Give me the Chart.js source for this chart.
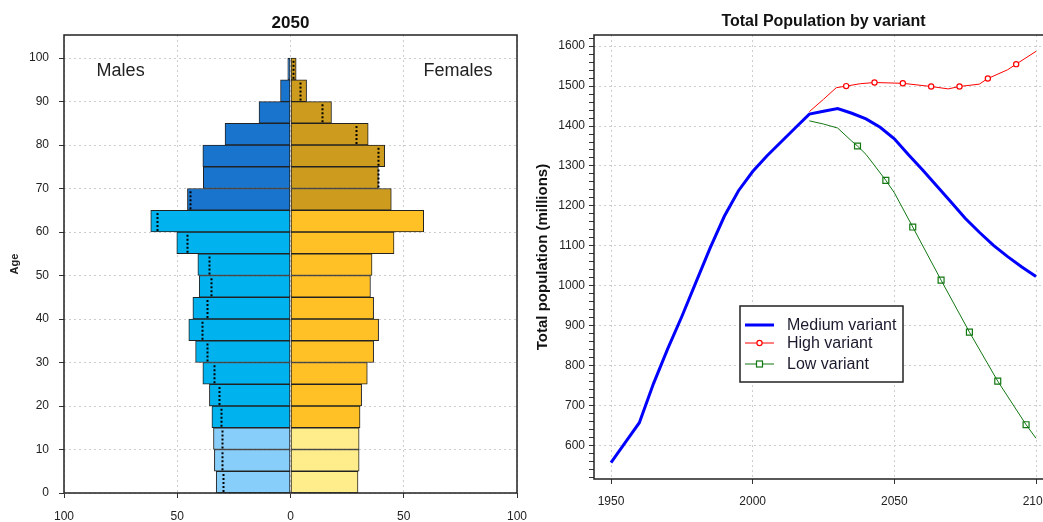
<!DOCTYPE html>
<html>
<head>
<meta charset="utf-8">
<script src="https://cdn.jsdelivr.net/npm/chart.js@4.4.0/dist/chart.umd.min.js"></script>
<style>
    html, body { margin: 0; padding: 0; background: #fff; overflow: hidden; }
    #wrap { position: relative; width: 1043px; height: 522px; overflow: hidden; }
    #pyramidChart { position: absolute; left: 0; top: 0; }
    #variantChart { position: absolute; left: 530px; top: 0; }
</style>
</head>
<body>
<div id="wrap">
    <canvas id="pyramidChart" width="530" height="522"></canvas>
    <canvas id="variantChart" width="540" height="522"></canvas>
</div>
<script>
// ---- Pyramid 2050 (5-year age groups) ----
const ageStarts = [0, 5, 10, 15, 20, 25, 30, 35, 40, 45, 50, 55, 60, 65, 70, 75, 80, 85, 90, 95];
const males   = [32.8, 33.6, 34.0, 34.7, 35.8, 38.7, 41.9, 44.9, 43.1, 40.3, 40.9, 50.2, 61.7, 45.5, 38.5, 38.7, 28.9, 13.9, 4.4, 1.2];
const females = [29.8, 30.3, 30.3, 30.7, 31.4, 33.9, 36.7, 38.9, 36.7, 35.3, 36.0, 45.7, 58.8, 44.5, 38.8, 41.6, 34.3, 18.1, 7.1, 2.5];
const ageTicks = [0, 10, 20, 30, 40, 50, 60, 70, 80, 90, 100];
const pyramidTicks = [-100, -50, 0, 50, 100];

// ---- Total population by variant (millions) ----
const mediumYears = [1950, 1955, 1960, 1965, 1970, 1975, 1980, 1985, 1990, 1995, 2000, 2005, 2010, 2015, 2020,
                     2025, 2030, 2035, 2040, 2045, 2050, 2055, 2060, 2065, 2070, 2075, 2080, 2085, 2090, 2095, 2100];
const mediumPop   = [557, 607, 657, 755, 842, 923, 1009, 1095, 1174, 1238, 1286, 1325, 1360, 1395, 1430,
                     1437, 1444, 1432, 1418, 1397, 1368, 1328, 1290, 1250, 1210, 1169, 1134, 1101, 1073, 1047, 1023];
const highYears = [2020, 2025, 2029.5, 2033, 2038, 2043, 2053, 2058, 2063, 2069, 2073, 2080, 2083, 2090, 2093, 2100];
const highPop   = [1436, 1467, 1496, 1500, 1506, 1509, 1507, 1503, 1499, 1493, 1499, 1505, 1519, 1541, 1555, 1587];
const highMarkerYears = [2033, 2043, 2053, 2063, 2073, 2083, 2093];
const lowYears = [2020, 2025, 2030, 2035, 2037, 2040, 2047, 2050, 2056.5, 2066.5, 2076.5, 2086.5, 2096.5, 2100];
const lowPop   = [1413, 1405, 1395, 1362, 1350, 1329, 1264, 1233, 1147, 1014, 884, 761, 652, 618];
const lowMarkerYears = [2037, 2047, 2056.5, 2066.5, 2076.5, 2086.5, 2096.5];
const yearTicks = [1950, 2000, 2050, 2100];
const popTicks = [600, 700, 800, 900, 1000, 1100, 1200, 1300, 1400, 1500, 1600];

Chart.defaults.font.family = '"Liberation Sans", Arial, sans-serif';
Chart.defaults.font.size = 12;
Chart.defaults.color = '#222';

const GRID = '#cdcdcd';

// colours by broad age group
function maleColor(a)   { return a < 15 ? '#87CEFA' : (a < 65 ? '#00B2EE' : '#1874CD'); }
function femaleColor(a) { return a < 15 ? '#FFEC8B' : (a < 65 ? '#FFC125' : '#CD9B1D'); }

// box round the plot area
const frameBox = {
    id: 'frameBox',
    afterDatasetsDraw(chart) {
        const { ctx, chartArea: a } = chart;
        ctx.save();
        ctx.strokeStyle = '#222';
        ctx.lineWidth = 1.5;
        ctx.strokeRect(a.left, a.top, a.right - a.left, a.bottom - a.top);
        ctx.restore();
    }
};

// dotted line = other sex's value, drawn inside the bigger bar
const mirrorLines = {
    id: 'mirrorLines',
    afterDatasetsDraw(chart) {
        const { ctx, scales: { x, y } } = chart;
        ctx.save();
        ctx.strokeStyle = '#000';
        ctx.lineWidth = 2;
        ctx.setLineDash([2, 2]);
        ageStarts.forEach((a, i) => {
            const v = females[i] < males[i] ? -females[i] : males[i];
            const px = Math.round(x.getPixelForValue(v)) + 0.5;
            ctx.beginPath();
            ctx.moveTo(px, y.getPixelForValue(a) - 1);
            ctx.lineTo(px, y.getPixelForValue(a + 5) + 1);
            ctx.stroke();
        });
        ctx.restore();
    }
};

const pyramidText = {
    id: 'pyramidText',
    afterDraw(chart) {
        const { ctx, chartArea: a, scales: { x, y } } = chart;
        ctx.save();
        ctx.fillStyle = '#111';
        ctx.textAlign = 'center';
        ctx.textBaseline = 'middle';
        ctx.font = 'bold 17px "Liberation Sans", Arial';
        ctx.fillText('2050', (a.left + a.right) / 2, 23);
        ctx.fillStyle = '#222';
        ctx.font = '18px "Liberation Sans", Arial';
        ctx.fillText('Males', x.getPixelForValue(-75), y.getPixelForValue(97));
        ctx.fillText('Females', x.getPixelForValue(74), y.getPixelForValue(97));
        ctx.translate(15, 264);
        ctx.rotate(-Math.PI / 2);
        ctx.font = 'bold 11px "Liberation Sans", Arial';
        ctx.fillText('Age', 0, 0);
        ctx.restore();
    }
};

const variantText = {
    id: 'variantText',
    afterDraw(chart) {
        const { ctx, chartArea: a } = chart;
        ctx.save();
        ctx.fillStyle = '#111';
        ctx.textAlign = 'center';
        ctx.textBaseline = 'middle';
        ctx.font = 'bold 16px "Liberation Sans", Arial';
        ctx.fillText('Total Population by variant', (a.left + a.right) / 2, 22);
        ctx.translate(13, (a.top + a.bottom) / 2);
        ctx.rotate(-Math.PI / 2);
        ctx.font = 'bold 15px "Liberation Sans", Arial';
        ctx.fillText('Total population (millions)', 0, 0);
        ctx.restore();

        // legend box
        ctx.save();
        ctx.fillStyle = '#fff';
        ctx.fillRect(210, 306, 163, 76);
        ctx.strokeStyle = '#222';
        ctx.lineWidth = 1.5;
        ctx.strokeRect(210, 306, 163, 76);
        const rows = [325, 343, 364];
        chart.data.datasets.forEach((ds, i) => {
            const ry = rows[i];
            ctx.strokeStyle = ds.borderColor;
            ctx.lineWidth = ds.borderWidth;
            ctx.beginPath();
            ctx.moveTo(215, ry);
            ctx.lineTo(244, ry);
            ctx.stroke();
            ctx.lineWidth = 1.2;
            if (ds.pointStyle === 'circle') {
                ctx.fillStyle = '#fff';
                ctx.beginPath();
                ctx.arc(229.5, ry, 2.6, 0, Math.PI * 2);
                ctx.fill();
                ctx.stroke();
            } else if (ds.pointStyle === 'rect') {
                ctx.fillStyle = '#fff';
                ctx.fillRect(226.5, ry - 3, 6, 6);
                ctx.strokeRect(226.5, ry - 3, 6, 6);
            }
            ctx.fillStyle = '#1a1a2e';
            ctx.font = '16px "Liberation Sans", Arial';
            ctx.textAlign = 'left';
            ctx.textBaseline = 'middle';
            ctx.fillText(ds.label, 257, ry + 1);
        });
        ctx.restore();
    }
};

// fixed axis box sizes, no extra room for edge labels
function fixX(h) {
    return s => { s.height = h; s.paddingLeft = 0; s.paddingRight = 0; };
}
function fixY(w) {
    return s => { s.width = w; s.paddingTop = 0; s.paddingBottom = 0; };
}

function initPyramid() {
    const ctx = document.getElementById('pyramidChart').getContext('2d');
    new Chart(ctx, {
        type: 'bar',
        data: {
            datasets: [
                {
                    label: 'Males',
                    data: ageStarts.map((a, i) => ({ x: -males[i], y: a + 2.5 })),
                    backgroundColor: ageStarts.map(maleColor),
                    borderColor: '#222',
                    borderWidth: 1,
                    borderSkipped: false,
                    grouped: false,
                    barPercentage: 1,
                    categoryPercentage: 1
                },
                {
                    label: 'Females',
                    data: ageStarts.map((a, i) => ({ x: females[i], y: a + 2.5 })),
                    backgroundColor: ageStarts.map(femaleColor),
                    borderColor: '#222',
                    borderWidth: 1,
                    borderSkipped: false,
                    grouped: false,
                    barPercentage: 1,
                    categoryPercentage: 1
                }
            ]
        },
        options: {
            indexAxis: 'y',
            responsive: false,
            animation: false,
            layout: { padding: { top: 35, right: 13, left: 0, bottom: 0 } },
            plugins: { legend: { display: false }, tooltip: { enabled: false } },
            scales: {
                x: {
                    type: 'linear',
                    min: -100,
                    max: 100,
                    afterBuildTicks: s => { s.ticks = pyramidTicks.map(v => ({ value: v })); },
                    afterFit: fixX(29),
                    grid: { color: GRID, tickColor: '#333', tickLength: 5 },
                    border: { display: false, dash: [2, 3] },
                    ticks: { padding: 11, maxRotation: 0, callback: v => String(Math.abs(v)) }
                },
                y: {
                    type: 'linear',
                    min: 0,
                    max: 105.3,
                    offset: false,
                    afterBuildTicks: s => { s.ticks = ageTicks.map(v => ({ value: v })); },
                    afterFit: fixY(64),
                    grid: { offset: false, color: GRID, tickColor: '#333', tickLength: 5 },
                    border: { display: false, dash: [2, 3] },
                    ticks: { padding: 10, callback: v => String(v) }
                }
            }
        },
        plugins: [mirrorLines, frameBox, pyramidText]
    });
}

function initVariants() {
    const ctx = document.getElementById('variantChart').getContext('2d');
    const minorTicks = [];
    for (let v = 520; v <= 1620; v += 20) minorTicks.push(v);

    new Chart(ctx, {
        type: 'line',
        data: {
            datasets: [
                {
                    label: 'Medium variant',
                    data: mediumYears.map((yr, i) => ({ x: yr, y: mediumPop[i] })),
                    borderColor: '#0000FF',
                    borderWidth: 3,
                    pointRadius: 0,
                    pointStyle: false,
                    tension: 0
                },
                {
                    label: 'High variant',
                    data: highYears.map((yr, i) => ({ x: yr, y: highPop[i] })),
                    borderColor: '#FF0000',
                    borderWidth: 1,
                    pointStyle: 'circle',
                    pointRadius: c => highMarkerYears.includes(c.raw.x) ? 2.6 : 0,
                    pointBorderWidth: 1.2,
                    pointBackgroundColor: '#fff',
                    tension: 0
                },
                {
                    label: 'Low variant',
                    data: lowYears.map((yr, i) => ({ x: yr, y: lowPop[i] })),
                    borderColor: '#117711',
                    borderWidth: 1,
                    pointStyle: 'rect',
                    pointRadius: c => lowMarkerYears.includes(c.raw.x) ? 4.2 : 0,
                    pointBorderWidth: 1.2,
                    pointBackgroundColor: 'rgba(255,255,255,0)',
                    tension: 0
                }
            ]
        },
        options: {
            responsive: false,
            animation: false,
            layout: { padding: { top: 35, right: 17, left: 0, bottom: 0 } },
            plugins: { legend: { display: false }, tooltip: { enabled: false } },
            scales: {
                x: {
                    type: 'linear',
                    min: 1944,
                    max: 2106,
                    afterBuildTicks: s => { s.ticks = yearTicks.map(v => ({ value: v })); },
                    afterFit: fixX(43),
                    grid: { color: GRID, tickColor: '#333', tickLength: 5 },
                    border: { display: false, dash: [2, 3] },
                    ticks: { padding: 10, maxRotation: 0, callback: v => String(v) }
                },
                y: {
                    type: 'linear',
                    min: 516,
                    max: 1628,
                    afterBuildTicks: s => { s.ticks = minorTicks.map(v => ({ value: v })); },
                    afterFit: fixY(64),
                    grid: {
                        color: c => (c.tick && popTicks.includes(c.tick.value)) ? GRID : 'rgba(0,0,0,0)',
                        tickColor: '#333',
                        tickLength: 5
                    },
                    border: { display: false, dash: [2, 3] },
                    ticks: {
                        padding: 4,
                        autoSkip: false,
                        callback: v => popTicks.includes(v) ? String(v) : ''
                    }
                }
            }
        },
        plugins: [frameBox, variantText]
    });
}

window.addEventListener('load', function() {
    initPyramid();
    initVariants();
});
</script>
</body>
</html>
